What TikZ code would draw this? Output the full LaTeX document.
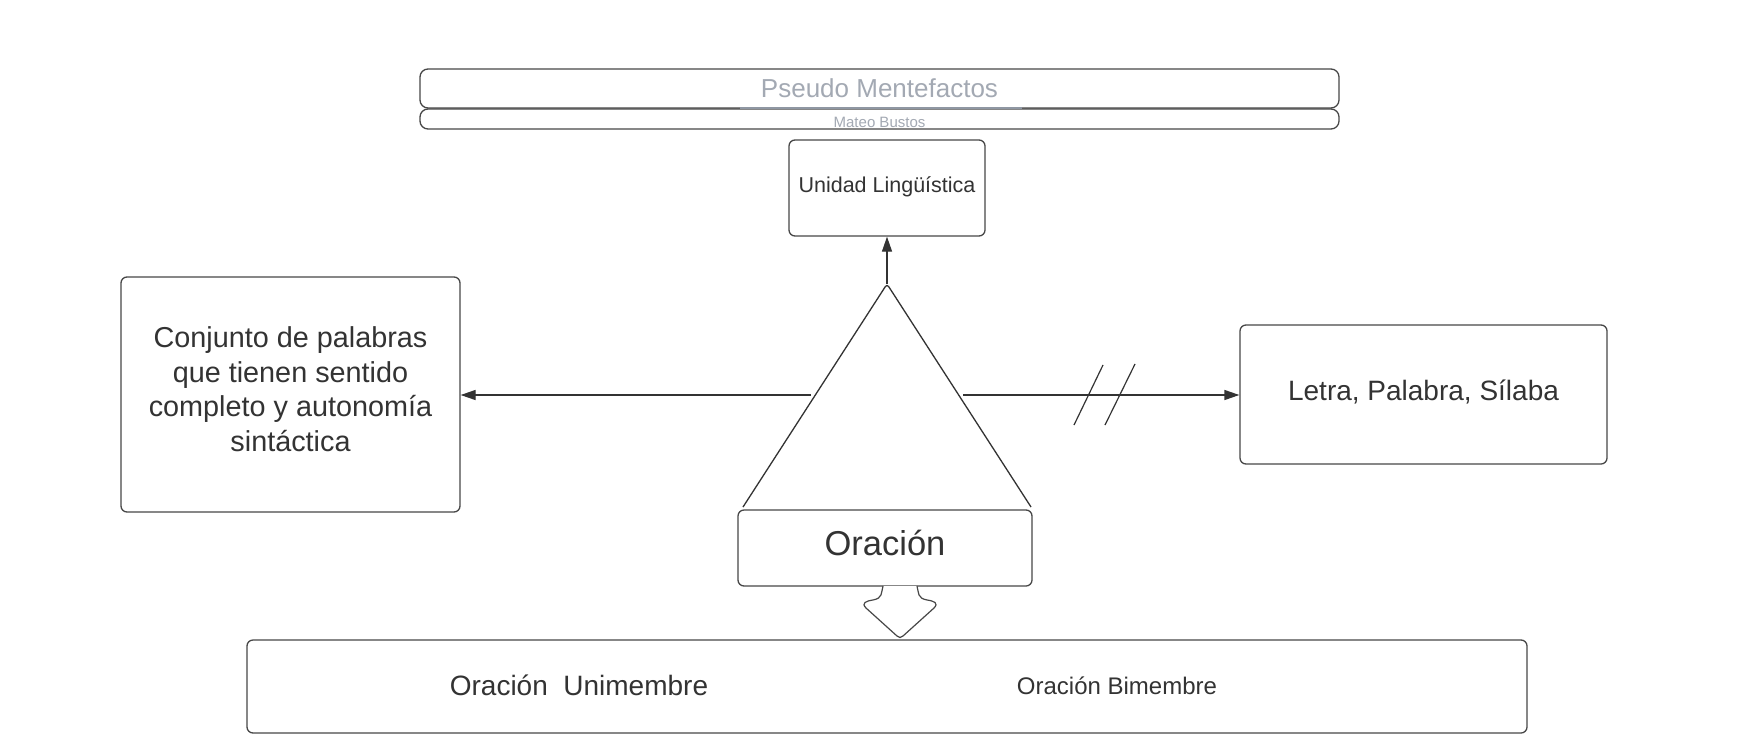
\documentclass[tikz,border=0pt]{standalone}
\usepackage{fontspec}
\setmainfont{Liberation Sans}
\usetikzlibrary{arrows.meta}
\definecolor{textc}{HTML}{333333}
\definecolor{linec}{HTML}{474747}
\definecolor{headc}{HTML}{A3A9B3}
\definecolor{ulinec}{HTML}{8F97A3}
\begin{document}
\begin{tikzpicture}[x=1pt,y=-1pt,
  box/.style={draw=linec, line width=1.3pt, rounded corners=6pt, inner sep=0pt,
    text=textc, align=center, fill=white},
  hbox/.style={box, rounded corners=8pt, text=headc},
  conn/.style={draw=textc, line width=1.3pt, -{Triangle[length=15pt,width=10pt]}},
  fs/.style={font=\fontsize{#1}{#1}\selectfont}]
\useasboundingbox (0,0) rectangle (1760,742);
\fill[white] (0,0) rectangle (1760,742);

% header
\node[hbox, minimum width=919pt, minimum height=39pt, fs=26] (title) at (879.5,88.5) {Pseudo Mentefactos};
\node[hbox, minimum width=919pt, minimum height=20pt, fs=15, text height=16pt, text depth=0pt] (author) at (879.5,119) {Mateo Bustos};
\draw[ulinec, line width=2pt] (740,108) -- (1022,108);

% top concept
\node[box, minimum width=196pt, minimum height=96pt, fs=21.5, text depth=6.5pt] (unidad) at (887,188) {Unidad Lingüística};

% triangle
\draw[textc, line width=1.3pt, rounded corners=3pt, line join=round]
  (743,507) -- (887,284) -- (1031,507);
\coordinate (apex) at (887,284);
\coordinate (tl) at (811,395);
\coordinate (tr) at (963,395);

% center
\node[box, minimum width=294pt, minimum height=76pt, fs=34.5, text depth=11pt] (oracion) at (885,548) {Oración};

% left and right
\node[box, minimum width=339pt, minimum height=235pt, font=\fontsize{28.8}{34.5}\selectfont, text depth=11pt] (left) at (290.5,394.5)
  {Conjunto de palabras\\que tienen sentido\\completo y autonomía\\sintáctica};
\node[box, minimum width=367pt, minimum height=139pt, fs=28, text depth=9pt] (right) at (1423.5,394.5) {Letra, Palabra, Sílaba};

% bottom
\node[box, minimum width=1280pt, minimum height=93pt] (bottom) at (887,686.5) {};
\node[text=textc, inner sep=0pt, fs=28] (uni) at (579,685) {Oración\ \ Unimembre};
\node[text=textc, inner sep=0pt, fs=24] (bi) at (1117,686) {Oración Bimembre};

% connectors
\draw[conn] (apex) -- (apex |- unidad.south);
\draw[conn] (tl) -- (left.east |- tl);
\draw[conn] (tr) -- (right.west |- tr);
\draw[textc, line width=1.2pt] (1103,365) -- (1074,425);
\draw[textc, line width=1.2pt] (1135,364) -- (1105,425);

% block arrow down
\draw[linec, line width=1.2pt, fill=white, line join=round]
  (883,586) .. controls (881,593) and (883,598) .. (873,600)
  .. controls (866,601) and (861,603) .. (866,608)
  -- (897,636) .. controls (899,638) and (901,638) .. (903,636)
  -- (934,608) .. controls (939,603) and (934,601) .. (927,600)
  .. controls (917,598) and (919,593) .. (917,586);
\end{tikzpicture}
\end{document}
